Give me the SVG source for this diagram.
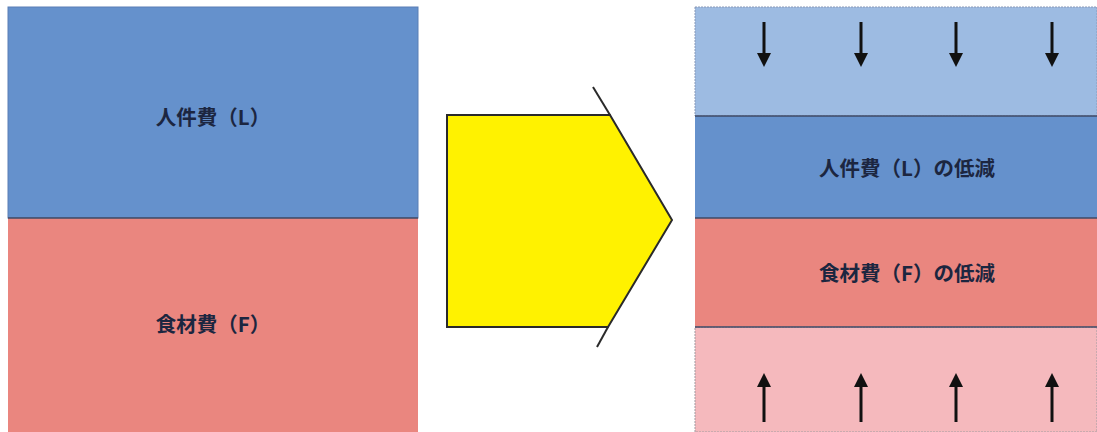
<svg xmlns="http://www.w3.org/2000/svg" width="1097" height="432" viewBox="0 0 1097 432">
<style>
.lbl{font-family:"Noto Sans CJK JP","Noto Sans",sans-serif;font-size:20.5px;font-weight:bold;fill:#1c2640;text-anchor:middle;dominant-baseline:central}
.div{stroke:#3f4a66;stroke-width:1.5}
.shaft{stroke:#111;stroke-width:3;fill:none}
.head{fill:#111}
</style>
<rect width="1097" height="432" fill="#fff"/>
<g id="left-L">
<rect x="8" y="7" width="410" height="211" fill="#6591cc" stroke="#5a7fb5" stroke-width="1"/>
<text class="lbl" x="213" y="116">人件費（L）</text>
</g>
<g id="left-F">
<rect x="8" y="218" width="410" height="214" fill="#ea867f"/>
<text class="lbl" x="213" y="323">食材費（F）</text>
</g>
<line class="div" x1="8" y1="218" x2="418" y2="218"/>
<g id="pentagon">
<polygon points="447,115 610,115 672,220 608,327 447,327" fill="#fff200" stroke="#2a2a2a" stroke-width="2"/>
<line x1="593" y1="87" x2="610" y2="115" stroke="#2a2a2a" stroke-width="2"/>
<line x1="608" y1="327" x2="597" y2="347" stroke="#2a2a2a" stroke-width="2"/>
</g>
<g id="right-top">
<rect x="695" y="7" width="402" height="109" fill="#9dbbe2" stroke="#8a9ab8" stroke-width="1" stroke-dasharray="2,1"/>
</g>
<g id="right-L">
<rect x="695" y="116" width="402" height="102" fill="#6591cc"/>
<text class="lbl" x="907" y="167">人件費（L）の低減</text>
</g>
<g id="right-F">
<rect x="695" y="218" width="402" height="109" fill="#ea867f"/>
<text class="lbl" x="907" y="272">食材費（F）の低減</text>
</g>
<g id="right-bottom">
<rect x="695" y="327" width="402" height="105" fill="#f5b9bd" stroke="#a09aa0" stroke-width="1" stroke-dasharray="2,1"/>
</g>
<g id="dividers">
<line class="div" x1="695" y1="116" x2="1097" y2="116"/>
<line class="div" x1="695" y1="218" x2="1097" y2="218"/>
<line class="div" x1="695" y1="327" x2="1097" y2="327"/>
</g>
<g id="connectors">
<line class="shaft" x1="764" y1="22" x2="764" y2="56"/><polygon class="head" points="757,53 771,53 764,67"/>
<line class="shaft" x1="861" y1="22" x2="861" y2="56"/><polygon class="head" points="854,53 868,53 861,67"/>
<line class="shaft" x1="956" y1="22" x2="956" y2="56"/><polygon class="head" points="949,53 963,53 956,67"/>
<line class="shaft" x1="1052" y1="22" x2="1052" y2="56"/><polygon class="head" points="1045,53 1059,53 1052,67"/>
<line class="shaft" x1="764" y1="422" x2="764" y2="384"/><polygon class="head" points="757,387 771,387 764,373"/>
<line class="shaft" x1="861" y1="422" x2="861" y2="384"/><polygon class="head" points="854,387 868,387 861,373"/>
<line class="shaft" x1="956" y1="422" x2="956" y2="384"/><polygon class="head" points="949,387 963,387 956,373"/>
<line class="shaft" x1="1052" y1="422" x2="1052" y2="384"/><polygon class="head" points="1045,387 1059,387 1052,373"/>
</g>
</svg>
